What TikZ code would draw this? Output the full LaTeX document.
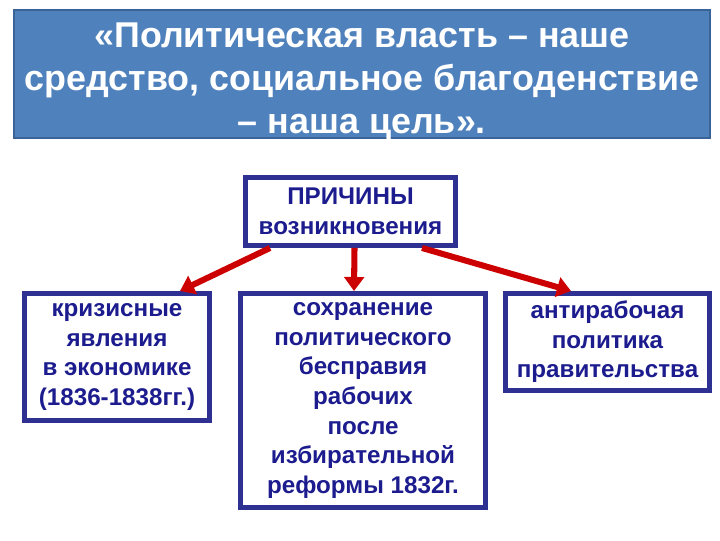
\documentclass[tikz,border=0pt]{standalone}
\usepackage{fontspec}
\setmainfont{Liberation Sans}
\usetikzlibrary{arrows.meta}

\definecolor{titleblue}{HTML}{4F81BD}
\definecolor{titleedge}{HTML}{3A6497}
\definecolor{boxedge}{HTML}{2E3192}
\definecolor{boxtext}{HTML}{1C1C8E}
\definecolor{arrowred}{HTML}{CC0000}

\tikzset{
	cause/.style={draw=boxedge, line width=3.5pt, text=boxtext, align=center,
		font=\bfseries\fontsize{17.2}{21}\selectfont, inner sep=0pt},
	redarrow/.style={draw=arrowred, line width=4.3pt,
		-{Triangle[length=10pt, width=14pt]}}
}

\begin{document}
\begin{tikzpicture}[x=0.025cm, y=-0.025cm]
	\useasboundingbox (0,0) rectangle (720,540);

	% title
	\node[draw=titleedge, fill=titleblue, line width=1pt,
		minimum width=17.4cm, minimum height=3.2cm] (title) at (362,74) {};
	\node[text=white, align=center, inner sep=0pt,
		font=\bfseries\fontsize{25.5}{30.5}\selectfont] (motto) at (362,82)
		{«Политическая власть – наше\\средство, социальное благоденствие\\– наша цель».};

	% boxes
	\node[cause, minimum width=5.25cm, minimum height=1.7cm] (reasons) at (350.5,211.5)
		{ПРИЧИНЫ\\возникновения};

	\node[cause, minimum width=4.625cm, minimum height=3.175cm] (crisis) at (117,357)
		{кризисные\\явления\\в экономике\\(1836-1838гг.)};

	\node[cause, minimum width=6.125cm, minimum height=5.35cm] (rights) at (363,400.5)
		{сохранение\\политического\\бесправия\\рабочих\\после\\избирательной\\реформы 1832г.};

	\node[cause, minimum width=5.1cm, minimum height=2.425cm] (policy) at (607.5,342)
		{антирабочая\\политика\\правительства};

	% arrows
	\draw[redarrow] ([xshift=0.675cm]reasons.south west) -- ([xshift=-0.8cm]crisis.north east);
	\draw[redarrow] ([xshift=0.1cm]reasons.south) -- ([xshift=-0.225cm]rights.north);
	\draw[redarrow] ([xshift=-0.9cm]reasons.south east) -- ([xshift=1.7cm]policy.north west);

\end{tikzpicture}
\end{document}
